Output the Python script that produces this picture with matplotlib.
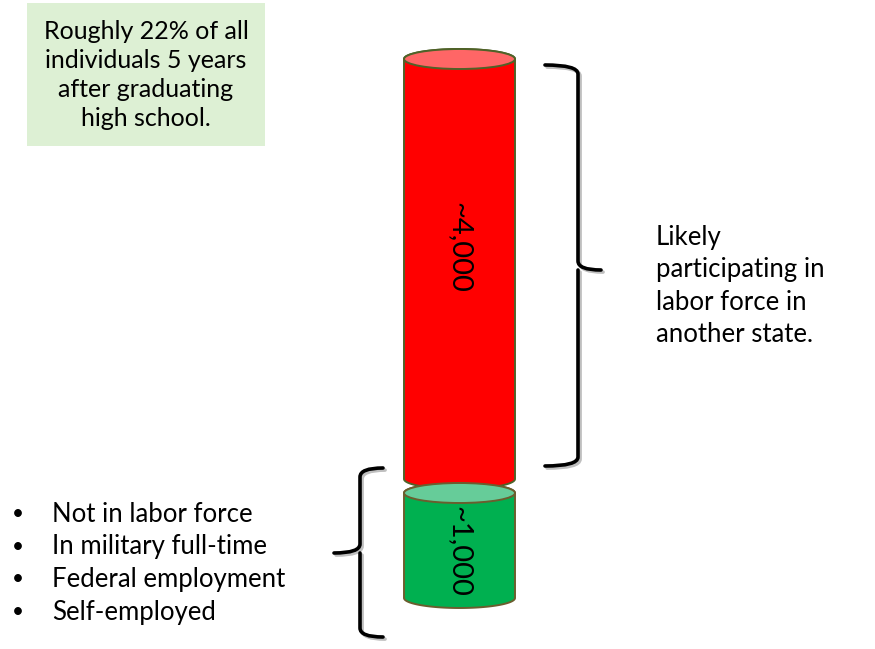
import matplotlib; matplotlib.use("Agg")
import matplotlib.pyplot as plt
import numpy as np
from matplotlib.patches import Polygon, Ellipse, Rectangle, PathPatch
from matplotlib.path import Path
import matplotlib.patheffects as pe

plt.rcParams["font.family"] = ["Lato", "DejaVu Sans"]

# data
segments = ["stay", "left"]
values = [1000, 4000]
value_labels = ["~1,000", "~4,000"]
note_text = "Roughly 22% of all\nindividuals 5 years\nafter graduating\nhigh school."
right_text = "Likely\nparticipating in\nlabor force in\nanother state."
bullets = ["Not in labor force", "In military full-time", "Federal employment", "Self-employed"]

BODY = ["#00B050", "#FF0000"]
TOP = ["#66CC99", "#FF6666"]
EDGE = ["#6B5E2E", "#4F6228"]
LABEL_DY = [6, -22]
INK = "#000000"
FS = 18.5

fig = plt.figure(figsize=(8.75, 6.49), dpi=100)
ax = fig.add_axes([0, 0, 1, 1])
ax.set_xlim(0, 875); ax.set_ylim(649, 0); ax.axis("off")

# cylinder geometry (pixel space)
x0, x1 = 404, 515
xc = (x0 + x1) / 2
ry = 10
scale = 0.105
base = 598
gap = 14

def cylinder(yt, yb, body, top, edge):
    t = np.linspace(0, np.pi, 60)
    bx = xc - (x1 - x0) / 2 * np.cos(t)
    by = yb + ry * np.sin(t)
    tx = xc + (x1 - x0) / 2 * np.cos(t)
    ty = yt - ry * np.sin(t)
    pts = np.column_stack([np.r_[x0, bx, x1, tx], np.r_[yt, by, yt, ty]])
    ax.add_patch(Polygon(pts, closed=True, fc=body, ec=edge, lw=1.4, zorder=2))
    ax.add_patch(Ellipse((xc, yt), x1 - x0, 2 * ry, fc=top, ec=edge, lw=1.4, zorder=3))

y = base
centers = []
for v, b, tp, e in zip(values, BODY, TOP, EDGE):
    h = v * scale
    cylinder(y - h, y, b, tp, e)
    centers.append(y - h / 2)
    y = y - h - gap

for lab, cy, dy in zip(value_labels, centers, LABEL_DY):
    ax.text(xc, cy + dy, lab, rotation=-90, ha="center", va="center", fontsize=21, color=INK, zorder=5)

# braces
shadow = [pe.SimpleLineShadow(offset=(1.5, -1.5), alpha=0.25), pe.Normal()]
def brace(xe, xs, xt, y0, y1, ym, r=9):
    verts = [(xe, y0), (xs, y0), (xs, y0 + r), (xs, ym - r), (xs, ym), (xt, ym),
             (xs, ym), (xs, ym + r), (xs, y1 - r), (xs, y1), (xe, y1)]
    codes = [Path.MOVETO, Path.CURVE3, Path.CURVE3, Path.LINETO, Path.CURVE3, Path.CURVE3,
             Path.MOVETO, Path.CURVE3, Path.LINETO, Path.CURVE3, Path.CURVE3]
    p = PathPatch(Path(verts, codes), fc="none", ec=INK, lw=2.6, capstyle="round", zorder=4)
    p.set_path_effects(shadow)
    ax.add_patch(p)

brace(545, 578, 601, 65, 466, 270)
brace(383, 360, 334, 468, 637, 553)

# note box
ax.add_patch(Rectangle((27, 3), 238, 143, fc="#DDF0D4", ec="none", zorder=1))
ax.text(146, 75, note_text, ha="center", va="center", fontsize=18, linespacing=1.33, color=INK)

ax.text(656, 286, right_text, ha="left", va="center", fontsize=FS, linespacing=1.36, color=INK)

for i, b in enumerate(bullets):
    yy = 514 + i * 32.7
    ax.text(18, yy, "\u2022", ha="center", va="center", fontsize=15, color=INK)
    ax.text(52, yy, b, ha="left", va="center", fontsize=FS, color=INK)

fig.savefig("out.png", dpi=100)
